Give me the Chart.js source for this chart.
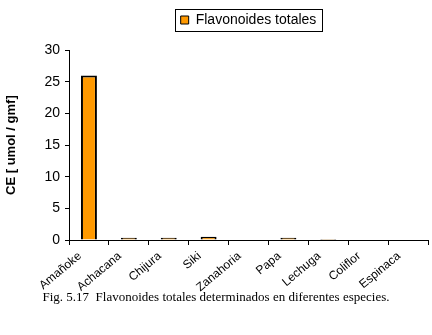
<!DOCTYPE html>
<html>
<head>
  <meta charset="utf-8">
  <title>Flavonoides totales</title>
  <script src="https://cdn.jsdelivr.net/npm/chart.js"></script>
  <style>
    body {
      margin: 0;
      background: #fff;
    }
    .wrap {
      position: relative;
      width: 432px;
      height: 335px;
    }
    .caption {
      position: absolute;
      left: 0;
      width: 432px;
      top: 289px;
      text-align: center;
      font-family: "Liberation Serif", "DejaVu Serif", serif;
      font-size: 13px;
      color: #000;
      white-space: pre;
    }
  </style>
</head>
<body>
  <div class="wrap">
    <canvas id="chart"></canvas>
    <div class="caption">Fig. 5.17  Flavonoides totales determinados en diferentes especies.</div>
  </div>

  <script>
    // categories and values
    const especies = ['Amañoke', 'Achacana', 'Chijura', 'Siki', 'Zanahoria', 'Papa', 'Lechuga', 'Coliflor', 'Espinaca'];
    const flavonoides = [26, 0.35, 0.35, 0.5, 0, 0.35, 0.15, 0, 0];
    const serieLabel = 'Flavonoides totales';
    const yTitle = 'CE [ umol / gmf]';

    // thin frame around the legend, like the spreadsheet legend box
    const legendFrame = {
      id: 'legendFrame',
      afterDraw(chart) {
        const hb = chart.legend.legendHitBoxes[0];
        if (!hb) return;
        const ctx = chart.ctx;
        ctx.save();
        ctx.strokeStyle = '#000';
        ctx.lineWidth = 1;
        ctx.strokeRect(Math.round(hb.left - 6) + 0.5, Math.round(hb.top - 4) + 0.5,
                       Math.round(hb.width + 11), Math.round(hb.height + 8));
        ctx.restore();
      }
    };

    const font = { family: '"Liberation Sans", Arial, sans-serif', size: 14 };

    new Chart(document.getElementById('chart'), {
      type: 'bar',
      data: {
        labels: especies,
        datasets: [{
          label: serieLabel,
          data: flavonoides,
          backgroundColor: '#FF9900',
          borderColor: '#000',
          borderWidth: 2,
          categoryPercentage: 1,
          barPercentage: 0.4
        }]
      },
      options: {
        responsive: true,
        maintainAspectRatio: false,
        animation: false,
        layout: { padding: { top: 3, right: 4, left: 0, bottom: 0 } },
        plugins: {
          tooltip: { enabled: false },
          legend: {
            fullSize: false,
            labels: {
              color: '#000',
              font: font,
              boxWidth: 8,
              boxHeight: 8,
              padding: 10,
              generateLabels(chart) {
                const items = Chart.defaults.plugins.legend.labels.generateLabels(chart);
                items.forEach(it => { it.lineWidth = 1; });
                return items;
              }
            }
          },
          // empty spacer between legend and plot
          subtitle: {
            display: true,
            text: ' ',
            weight: 500,
            fullSize: false,
            font: { size: 1 },
            padding: { top: 0, bottom: 12 }
          }
        },
        scales: {
          x: {
            afterFit: s => { s.height = 95; },
            border: { display: true, color: '#000', width: 1 },
            grid: { drawOnChartArea: false, drawTicks: true, tickLength: 5, color: '#000', offset: true },
            ticks: {
              color: '#000',
              font: { family: '"Liberation Sans", Arial, sans-serif', size: 12 },
              minRotation: 40, maxRotation: 40, autoSkip: false, padding: 4, labelOffset: -9
            }
          },
          y: {
            min: 0,
            max: 30,
            afterFit: s => { s.width = 69; },
            border: { display: true, color: '#000', width: 1 },
            grid: { drawOnChartArea: false, drawTicks: true, tickLength: 4, color: '#000' },
            ticks: { color: '#000', font: font, stepSize: 5, padding: 5 },
            title: {
              display: true,
              text: yTitle,
              color: '#000',
              font: { family: '"Liberation Sans", Arial, sans-serif', size: 13, weight: 'bold' }
            }
          }
        }
      },
      plugins: [legendFrame]
    });
  </script>
</body>
</html>
